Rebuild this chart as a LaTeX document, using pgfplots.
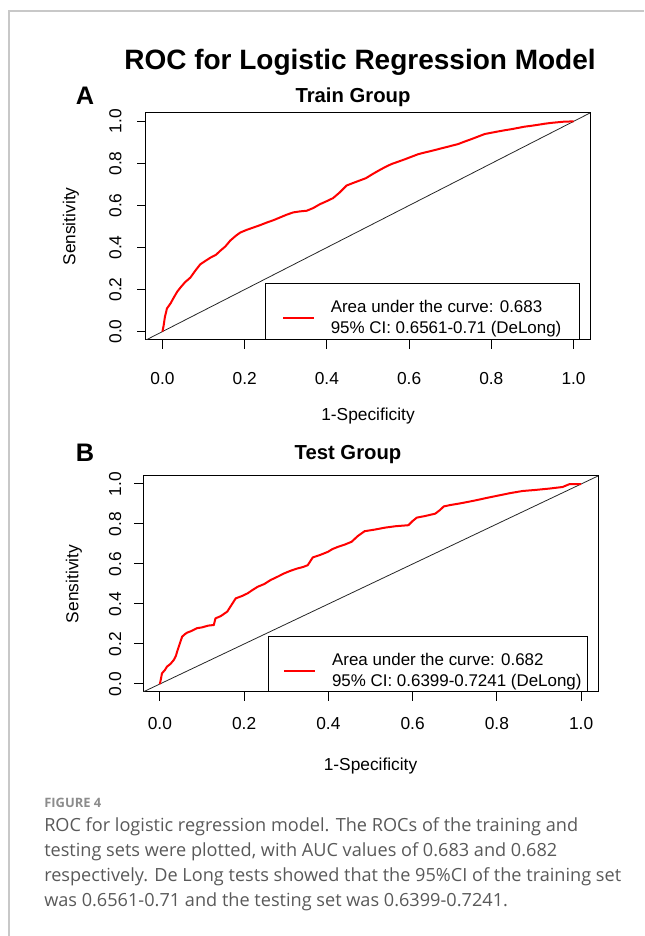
\documentclass[border=0pt]{standalone}
\usepackage{fontspec}
\setmainfont{Liberation Sans}
\newfontfamily\capfont{Open Sans}
\usepackage{pgfplots}
\pgfplotsset{compat=1.18}
\definecolor{rocred}{HTML}{FF0000}
\definecolor{framegray}{HTML}{C8C8C8}
\definecolor{captext}{HTML}{595959}
\definecolor{capfig}{HTML}{8C8C8C}

\pgfplotsset{
  rocaxis/.style={
    scale only axis,
    xmin=-0.04, xmax=1.04, ymin=-0.04, ymax=1.04,
    xtick={0,0.2,0.4,0.6,0.8,1}, ytick={0,0.2,0.4,0.6,0.8,1},
    xticklabels={0.0,0.2,0.4,0.6,0.8,1.0},
    yticklabels={0.0,0.2,0.4,0.6,0.8,1.0},
    tick align=outside, xtick pos=left, ytick pos=left,
    major tick length=6.5pt,
    tick style={black, line width=0.75pt},
    axis line style={black, line width=0.75pt},
    ticklabel style={font=\fontsize{13}{15}\selectfont},
    label style={font=\fontsize{13}{15}\selectfont},
    xlabel={1-Specificity}, ylabel={Sensitivity},
    legend image code/.code={\draw[rocred, line width=1.5pt] (0pt,0pt) -- (23.25pt,0pt);},
    legend style={draw=none, fill=none, inner sep=0pt, anchor=west,
      font=\fontsize{12.7}{15.5}\selectfont, cells={anchor=west, align=left},
      /tikz/every odd column/.style={column sep=9.75pt}},
  }
}

\begin{document}
\begin{tikzpicture}[x=0.75pt, y=0.75pt]
\path[use as bounding box] (0,0) rectangle (644,936);
\draw[framegray, line width=1.2pt] (9,0) -- (9,925) -- (644,925);
\coordinate (pA) at (146,596);
\coordinate (pB) at (143,244);

\node[anchor=base, font=\fontsize{21}{25}\selectfont\bfseries] at (360,866) {ROC for Logistic Regression Model};
\node[anchor=base, font=\fontsize{19}{22}\selectfont\bfseries] at (85,831) {A};
\node[anchor=base, font=\fontsize{15.2}{18}\selectfont\bfseries] at (353,833) {Train Group};
\node[anchor=base, font=\fontsize{19}{22}\selectfont\bfseries] at (85,474) {B};
\node[anchor=base, font=\fontsize{15.2}{18}\selectfont\bfseries] at (348,476) {Test Group};

% panel A: train
\begin{axis}[rocaxis,
  at={(pA)}, anchor=south west,
  width=333pt, height=170.25pt,
  xticklabel style={anchor=base, yshift=-27pt},
  yticklabel style={rotate=90, anchor=base, yshift=12pt},
  xlabel style={at={(axis description cs:0.5,-0.335)}, anchor=center},
  ylabel style={at={(axis description cs:-0.169,0.5)}, anchor=center},
  legend style={at={(axis description cs:0.306,0.097)}},
]
\addplot[black!85, line width=0.6pt, forget plot] coordinates {(-0.04,-0.04)(1.04,1.04)};
\addplot[rocred, line width=1.5pt] coordinates {
(0,0)(0.003,0.03)(0.006,0.07)(0.011,0.11)(0.02,0.135)(0.027,0.16)(0.036,0.19)
(0.044,0.21)(0.055,0.235)(0.068,0.257)(0.08,0.29)(0.092,0.32)(0.105,0.337)
(0.117,0.352)(0.13,0.365)(0.141,0.385)(0.153,0.405)(0.165,0.433)(0.178,0.455)
(0.189,0.471)(0.205,0.484)(0.221,0.495)(0.237,0.506)(0.254,0.519)(0.27,0.53)
(0.286,0.543)(0.302,0.556)(0.318,0.567)(0.335,0.572)(0.351,0.575)(0.367,0.588)
(0.383,0.606)(0.399,0.62)(0.415,0.635)(0.43,0.66)(0.448,0.695)(0.465,0.708)
(0.48,0.719)(0.495,0.73)(0.51,0.748)(0.525,0.765)(0.541,0.782)(0.557,0.797)
(0.573,0.808)(0.59,0.82)(0.606,0.832)(0.622,0.844)(0.638,0.852)(0.655,0.86)
(0.671,0.868)(0.687,0.876)(0.703,0.884)(0.719,0.892)(0.735,0.904)(0.752,0.916)
(0.768,0.928)(0.784,0.94)(0.8,0.946)(0.816,0.952)(0.833,0.958)(0.849,0.963)
(0.865,0.969)(0.881,0.975)(0.897,0.979)(0.914,0.984)(0.93,0.989)(0.946,0.993)
(0.962,0.996)(0.978,0.999)(1,1)
};
\addlegendentry{Area under the curve: 0.683\\95\% CI: 0.6561-0.71 (DeLong)}
\draw[black, line width=0.75pt] (axis description cs:0.27,0) rectangle (axis description cs:0.977,0.251);
\end{axis}

% panel B: test
\begin{axis}[rocaxis,
  at={(pB)}, anchor=south west,
  width=341.25pt, height=162pt,
  xticklabel style={anchor=base, yshift=-21.75pt},
  yticklabel style={rotate=90, anchor=base, yshift=10pt},
  xlabel style={at={(axis description cs:0.5,-0.343)}, anchor=center},
  ylabel style={at={(axis description cs:-0.152,0.5)}, anchor=center},
  legend style={at={(axis description cs:0.308,0.097)}},
]
\addplot[black!85, line width=0.6pt, forget plot] coordinates {(-0.04,-0.04)(1.04,1.04)};
\addplot[rocred, line width=1.5pt] coordinates {
(0,0)(0.003,0.03)(0.005,0.053)(0.012,0.07)(0.017,0.087)(0.025,0.1)(0.033,0.12)
(0.038,0.14)(0.041,0.162)(0.047,0.2)(0.053,0.237)(0.06,0.25)(0.065,0.257)
(0.075,0.265)(0.088,0.279)(0.1,0.283)(0.115,0.292)(0.128,0.295)(0.132,0.328)
(0.145,0.34)(0.16,0.362)(0.17,0.395)(0.18,0.428)(0.195,0.44)(0.208,0.453)
(0.22,0.47)(0.232,0.486)(0.248,0.5)(0.263,0.52)(0.28,0.537)(0.295,0.553)
(0.31,0.566)(0.327,0.578)(0.34,0.585)(0.351,0.594)(0.363,0.633)(0.38,0.645)
(0.399,0.661)(0.41,0.675)(0.423,0.686)(0.44,0.698)(0.455,0.711)(0.47,0.74)
(0.486,0.764)(0.51,0.772)(0.535,0.782)(0.56,0.789)(0.59,0.794)(0.6,0.815)
(0.61,0.832)(0.63,0.84)(0.654,0.852)(0.665,0.87)(0.674,0.888)(0.69,0.895)
(0.71,0.902)(0.73,0.91)(0.749,0.918)(0.775,0.93)(0.805,0.943)(0.833,0.955)
(0.861,0.965)(0.89,0.97)(0.924,0.977)(0.956,0.985)(0.965,0.993)(0.972,0.999)
(1,1)
};
\addlegendentry{Area under the curve: 0.682\\95\% CI: 0.6399-0.7241 (DeLong)}
\draw[black, line width=0.75pt] (axis description cs:0.275,0) rectangle (axis description cs:0.976,0.255);
\end{axis}

% caption
\node[anchor=base west, font=\capfont\fontsize{9.7}{12}\selectfont\bfseries, text=capfig, inner sep=0pt] at (44,128) {FIGURE 4};
\begin{scope}[every node/.style={anchor=base west, inner sep=0pt, text=captext, font=\capfont\fontsize{13.6}{18}\selectfont}]
\node at (44,104) {ROC for logistic regression model. The ROCs of the training and};
\node at (44,79) {testing sets were plotted, with AUC values of 0.683 and 0.682};
\node at (44,54) {respectively. De Long tests showed that the 95\%CI of the training set};
\node at (44,29) {was 0.6561-0.71 and the testing set was 0.6399-0.7241.};
\end{scope}
\end{tikzpicture}
\end{document}
